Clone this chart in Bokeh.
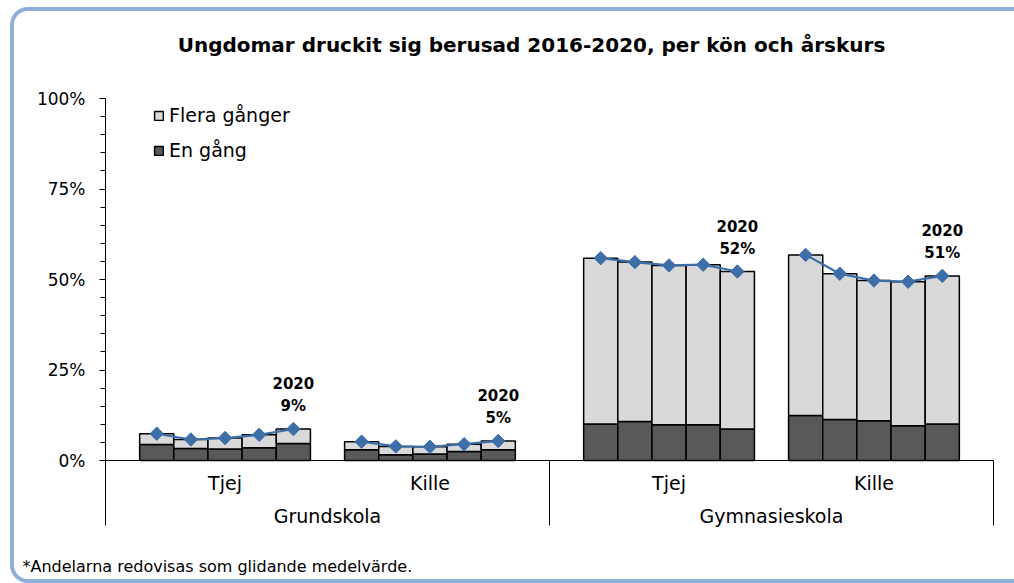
import numpy as np
from bokeh.plotting import figure
from bokeh.models import (ColumnDataSource, FixedTicker, PrintfTickFormatter, Title,
                          Legend, LegendItem, Range1d)
from bokeh.core.properties import value
from bokeh.embed import file_html
from bokeh.resources import INLINE

# ---------------- data ----------------
skolor = ["Grundskola", "Gymnasieskola"]
kon = ["Tjej", "Kille"]
ar = ["2016", "2017", "2018", "2019", "2020"]

# "En gång" (dark segment), percent
grund_tjej_en = [4.4, 3.3, 3.2, 3.5, 4.7]
grund_kille_en = [3.0, 1.6, 1.8, 2.5, 3.0]
gymn_tjej_en = [10.1, 10.8, 9.9, 9.9, 8.7]
gymn_kille_en = [12.4, 11.3, 11.0, 9.6, 10.1]

# Total share (En gång + Flera gånger) = line with markers, percent
grund_tjej_tot = [7.4, 5.8, 6.2, 7.1, 8.7]
grund_kille_tot = [5.2, 3.9, 3.8, 4.5, 5.4]
gymn_tjej_tot = [55.9, 54.8, 53.9, 54.1, 52.2]
gymn_kille_tot = [56.8, 51.6, 49.7, 49.4, 51.0]

title_text = "Ungdomar druckit sig berusad 2016-2020, per kön och årskurs"
footnote_text = "*Andelarna redovisas som glidande medelvärde."
legend_labels = ["Flera gånger", "En gång"]

en_series = [[grund_tjej_en, grund_kille_en], [gymn_tjej_en, gymn_kille_en]]
tot_series = [[grund_tjej_tot, grund_kille_tot], [gymn_tjej_tot, gymn_kille_tot]]

# ---------------- layout constants ----------------
FONT = "DejaVu Sans"
BLUE = "#3d6ea8"
FRAME_BLUE = "#8fb1d9"
W, H = 1014, 583
ML, MR, MT, MB = 105, 8, 0, 34
SLOTS = 26
PX_PER_SLOT = 888 / SLOTS
PX_PER_PCT = 3.62
Y0_PAGE = 460          # page y of 0 %
AXIS_BOTTOM_PAGE = 525  # page y where category-axis lines end
frame_w = W - ML - MR
x_end = frame_w / PX_PER_SLOT
y_top = (Y0_PAGE - MT) / PX_PER_PCT
y_bot = -((H - MB) - Y0_PAGE) / PX_PER_PCT


def dx(px):
    return (px - ML) / PX_PER_SLOT


def dy(py):
    return (Y0_PAGE - py) / PX_PER_PCT


# ---------------- build sources ----------------
xs, en_vals, flera_vals, tot_vals = [], [], [], []
line_groups = []
lab_x, lab_y, lab_pct = [], [], []
sub_x, sub_txt, grp_x, grp_txt = [], [], [], []
for g, skola in enumerate(skolor):
    grp_x.append(13 * g + 6.5)
    grp_txt.append(skola)
    for s, k in enumerate(kon):
        start = 13 * g + 1 + 6 * s
        sub_x.append(start + len(ar) / 2)
        sub_txt.append(k)
        gx, gy = [], []
        for i, year in enumerate(ar):
            x = start + i + 0.5
            e = en_series[g][s][i]
            t = tot_series[g][s][i]
            xs.append(x)
            en_vals.append(e)
            flera_vals.append(t - e)
            tot_vals.append(t)
            gx.append(x)
            gy.append(t)
        line_groups.append((gx, gy))
        lab_x.append(gx[-1])
        lab_y.append(gy[-1])
        lab_pct.append(f"{round(gy[-1])}%")

bar_src = ColumnDataSource(dict(x=xs, en=en_vals, flera=flera_vals))

p = figure(width=W, height=H, output_backend="svg", toolbar_location=None,
           x_range=Range1d(0, x_end), y_range=Range1d(y_bot, y_top),
           x_axis_location=None,
           min_border_left=ML, min_border_right=MR, min_border_top=MT, min_border_bottom=MB,
           outline_line_color=None, background_fill_color="white", border_fill_color="white")
p.xgrid.visible = False
p.ygrid.visible = False

yax = p.yaxis[0]
yax.ticker = FixedTicker(ticks=[0, 25, 50, 75, 100], minor_ticks=list(range(5, 100, 5)))
yax.formatter = PrintfTickFormatter(format="%d%%")
yax.bounds = (dy(AXIS_BOTTOM_PAGE), 100)
yax.major_tick_out = 6
yax.major_tick_in = 0
yax.minor_tick_out = 5
yax.minor_tick_in = 0
yax.major_label_standoff = 14
yax.major_label_text_font = FONT
yax.major_label_text_font_size = "17px"
yax.major_label_text_color = "black"
yax.axis_line_color = "black"
yax.major_tick_line_color = "black"
yax.minor_tick_line_color = "black"

bars = p.vbar_stack(["en", "flera"], x="x", width=1, source=bar_src,
                    fill_color=["#595959", "#d9d9d9"], line_color="black", line_width=1.5)

# category axis lines
yb_axis = dy(AXIS_BOTTOM_PAGE)
p.segment(x0=[0, 13, SLOTS], y0=[0, yb_axis, yb_axis], x1=[SLOTS, 13, SLOTS], y1=[0, 0, 0],
          line_color="black", line_width=1)

for gx, gy in line_groups:
    p.line(gx, gy, line_color=BLUE, line_width=2.2)
p.scatter(xs, tot_vals, marker="square", angle=np.pi / 4, size=9.5,
          fill_color=BLUE, line_color=BLUE)

lab_src = ColumnDataSource(dict(x=lab_x, y=lab_y, yr=[ar[-1]] * len(lab_x), pct=lab_pct))
p.text(x="x", y="y", text="yr", source=lab_src, y_offset=-46, text_align="center",
       text_baseline="middle", text_font=value(FONT), text_font_style="bold",
       text_font_size="15px", text_color="black")
p.text(x="x", y="y", text="pct", source=lab_src, y_offset=-23, text_align="center",
       text_baseline="middle", text_font=value(FONT), text_font_style="bold",
       text_font_size="15px", text_color="black")

p.text(x=sub_x, y=[dy(482)] * len(sub_x), text=sub_txt, text_align="center",
       text_baseline="middle", text_font=value(FONT), text_font_size="19px", text_color="black")
p.text(x=grp_x, y=[dy(515)] * len(grp_x), text=grp_txt, text_align="center",
       text_baseline="middle", text_font=value(FONT), text_font_size="19px", text_color="black")

# chart title (inside the top of the canvas)
p.text(x=[dx(531)], y=[dy(44)], text=[title_text], text_align="center",
       text_baseline="middle", text_font=value(FONT), text_font_style="bold",
       text_font_size="20px", text_color="black")

legend = Legend(items=[LegendItem(label=legend_labels[0], renderers=[bars[1]]),
                       LegendItem(label=legend_labels[1], renderers=[bars[0]])],
                location=(48, (H - MB) - 161), padding=0, margin=0, border_line_color=None,
                background_fill_alpha=0, glyph_width=11, glyph_height=11,
                label_standoff=5, label_height=22, spacing=13,
                label_text_font=FONT, label_text_font_size="19px", label_text_color="black")
p.add_layout(legend)

foot = Title(text=footnote_text, align="left", offset=22 - ML, text_font=FONT,
             text_font_size="16px", text_font_style="normal", text_color="black")
p.add_layout(foot, "below")

p.stylesheets = [
    ":host::after { content: ''; position: absolute; left: 10px; top: 6.5px; "
    "width: 1004px; height: 576px; box-sizing: border-box; "
    "border: 4.5px solid " + FRAME_BLUE + "; border-right: none; "
    "border-radius: 18px 0 0 18px; pointer-events: none; z-index: 5; }"
]

open("out.html", "w").write(file_html(p, INLINE))
